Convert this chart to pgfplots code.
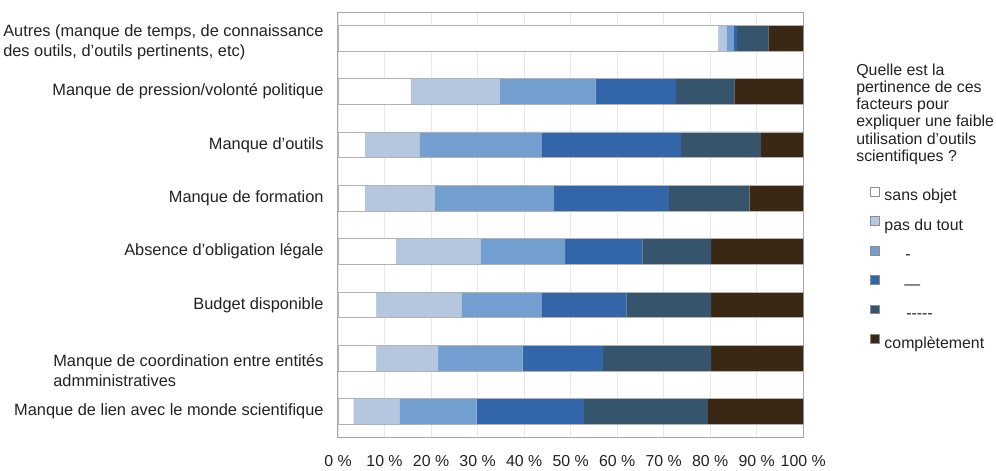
\documentclass[border=0pt]{standalone}
\usepackage{pgfplots}
\usepackage{pgfplotstable}
\pgfplotsset{compat=1.18}
\usepackage{fontspec}
\setmainfont{Liberation Sans}

\definecolor{sansobjet}{HTML}{FFFFFF}
\definecolor{pasdutout}{HTML}{B5C7DF}
\definecolor{niveaua}{HTML}{729FCF}
\definecolor{niveaub}{HTML}{3366A8}
\definecolor{niveauc}{HTML}{37546D}
\definecolor{completement}{HTML}{3A2814}
\definecolor{labeltext}{HTML}{222222}

% shares of answers (%) for each factor, top to bottom
\pgfplotstableread{
y  s1    s2    s3    s4    s5    s6
1  81.7  1.8   1.6   0.7   6.7   7.5
2  15.6  19.2  20.6  17.3  12.5  14.8
3  5.8   11.7  26.3  29.9  17.2  9.1
4  5.8   14.9  25.6  24.8  17.4  11.5
5  12.4  18.2  18.2  16.6  14.8  19.8
6  8.2   18.3  17.3  18.2  18.2  19.8
7  8.2   13.3  18.2  17.3  23.2  19.8
8  3.3   9.9   16.6  23.1  26.6  20.5
}\pertinence

\pgfplotstableread{
y  total
1  100
2  100
3  100
4  100
5  100
6  100
7  100
8  100
}\totaux

\begin{document}
\begin{tikzpicture}
\path (-332.7pt,-27.3pt) rectangle (663.3pt,440.7pt);
\begin{axis}[
  at={(0pt,0pt)}, anchor=south west,
  scale only axis, width=469pt, height=428pt,
  xbar stacked, bar width=26pt,
  xmin=0, xmax=100, ymin=0.52, ymax=8.48, y dir=reverse,
  xtick={0,10,...,100},
  xticklabels={0 \%,10 \%,20 \%,30 \%,40 \%,50 \%,60 \%,70 \%,80 \%,90 \%,100 \%},
  ytick={1,...,8},
  yticklabels={
    {\rule{0pt}{20pt}Autres (manque de temps, de connaissance\\des outils, d’outils pertinents, etc)},
    {Manque de pression/volonté politique},
    {Manque d’outils},
    {Manque de formation},
    {Absence d’obligation légale},
    {Budget disponible},
    {\rule{0pt}{37pt}Manque de coordination entre entités\\admministratives},
    {Manque de lien avec le monde scientifique}},
  major tick length=0pt,
  xmajorgrids, major grid style={black!9, line width=0.6pt},
  axis line style={black!35, line width=1pt},
  xticklabel style={font=\fontsize{16}{17}\selectfont, text=labeltext, yshift=-15pt},
  yticklabel style={font=\fontsize{16.5}{20}\selectfont, text=labeltext, align=left, xshift=-11pt},
  legend style={
    at={(axis description cs:1.1435,0.5904)}, anchor=north west,
    draw=none, fill=none, inner sep=0pt,
    font=\fontsize{16}{17}\selectfont, text=labeltext,
    legend cell align=left, row sep=11.5pt,
    nodes={inner sep=0pt, text height=12pt, text depth=4pt},
    /tikz/every odd column/.append style={column sep=5pt}},
  legend image code/.code={
    \draw[#1, draw=black!45, line width=0.4pt] (0pt,1pt) rectangle (9pt,10pt);},
]
\addplot[fill=sansobjet, draw=none] table[x=s1, y=y] {\pertinence};
\addplot[fill=pasdutout, draw=none] table[x=s2, y=y] {\pertinence};
\addplot[fill=niveaua, draw=none] table[x=s3, y=y] {\pertinence};
\addplot[fill=niveaub, draw=none] table[x=s4, y=y] {\pertinence};
\addplot[fill=niveauc, draw=none] table[x=s5, y=y] {\pertinence};
\addplot[fill=completement, draw=none] table[x=s6, y=y] {\pertinence};
\legend{sans objet, pas du tout,
  \hspace*{21pt}-,
  \hspace*{20pt}—,
  \hspace*{22pt}-\kern0pt-\kern0pt-\kern0pt-\kern0pt-,
  complètement}
\end{axis}
% thin outline around each full bar
\begin{axis}[
  at={(0pt,0pt)}, anchor=south west,
  scale only axis, width=469pt, height=428pt,
  xbar, bar width=26pt,
  xmin=0, xmax=100, ymin=0.52, ymax=8.48, y dir=reverse,
  hide axis,
]
\addplot[fill=none, draw=black!30, line width=0.8pt] table[x=total, y=y] {\totaux};
\end{axis}
\node[anchor=north west, align=left, inner sep=0pt,
  font=\fontsize{16}{17.3}\selectfont, text=labeltext]
  at (522.3pt,376.5pt)
  {Quelle est la\\pertinence de ces\\facteurs pour\\expliquer une faible\\utilisation d'outils\\scientifiques ?};
\end{tikzpicture}
\end{document}
